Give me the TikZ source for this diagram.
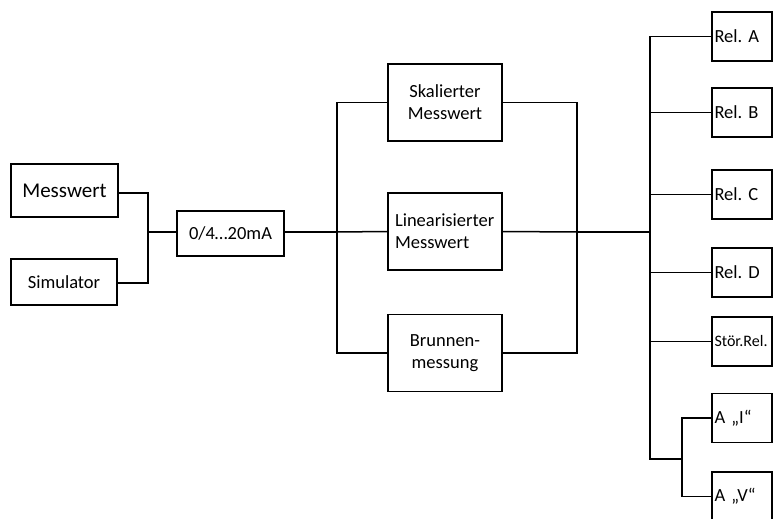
\documentclass[tikz,border=0pt]{standalone}
\usepackage{fontspec}
\setmainfont{Carlito}
\usetikzlibrary{positioning}
\frenchspacing

\begin{document}
\begin{tikzpicture}[x=1pt, y=-1pt,
  box/.style={draw, line width=1.6pt, fill=white, inner sep=2pt, align=center, font=\fontsize{18.5}{22}\selectfont},
  mid/.style={box, minimum width=114pt, minimum height=77pt},
  rel/.style={box, minimum height=49pt, text width=55pt, inner xsep=2.5pt, align=left},
  wire/.style={line width=1.5pt},
  bus/.style={line width=2.4pt}]

  \useasboundingbox (0,0) rectangle (774,519);
  \clip (0,0) rectangle (774,519);

  % Inputs
  \node[box, minimum width=107pt, minimum height=53pt, font=\fontsize{21}{25}\selectfont] (mess) at (64.5,190.5) {Messwert};
  \node[box, minimum width=106pt, minimum height=46pt] (sim) at (64,282) {Simulator};
  \node[box, minimum width=107pt, minimum height=45pt] (ma) at (230.5,233.5) {0/4…20mA};

  % Processing blocks
  \node[mid] (skal) at (445,102.5) {Skalierter\\Messwert};
  \node[mid, text width=100pt, inner xsep=7pt, align=left] (lin) at (445,231.5) {Linearisierter\\Messwert};
  \node[mid] (brun) at (445,353) {Brunnen-\\messung};

  % Outputs
  \node[rel] (relA) at (742,36.5) {Rel. A};
  \node[rel] (relB) at (742,112.5) {Rel. B};
  \node[rel] (relC) at (742,194.5) {Rel. C};
  \node[rel] (relD) at (742,272.5) {Rel. D};
  \node[rel, font=\fontsize{16}{19}\selectfont] (stoer) at (742,341.5) {Stör.Rel.};
  \node[rel] (aI) at (742,418) {A „I“};
  \node[rel] (aV) at (742,496.5) {A „V“};

  % Bus coordinates
  \coordinate (inbus) at (148,232);
  \coordinate (lbus) at (337,232);
  \coordinate (rbus) at (577,232);
  \coordinate (obus) at (650,232);
  \coordinate (obot) at (650,459);
  \coordinate (abus) at (682,459);

  % Input wiring
  \draw[wire] (mess.east |- 0,193) -| (inbus);
  \draw[wire] (sim.east |- 0,283) -| (inbus);
  \draw[bus] (inbus) -- (inbus -| ma.west);
  \draw[bus] (ma.east |- lbus) -- (lbus);

  % Processing wiring
  \draw[wire] (skal.west) -| (lbus) |- (brun.west);
  \draw[wire] (lbus) -- (lin.west);
  \draw[wire] (skal.east) -| (rbus) |- (brun.east);
  \draw[wire] (lin.east) -- (rbus);
  \draw[bus] (rbus) -- (obus);

  % Output wiring
  \draw[wire] (relA.west) -| (obot) -- (abus);
  \foreach \r in {relB, relC, relD, stoer}
    \draw[wire] (\r.west) -- (\r.west -| obus);
  \draw[wire] (aI.west) -| (abus) |- (aV.west);

\end{tikzpicture}
\end{document}
